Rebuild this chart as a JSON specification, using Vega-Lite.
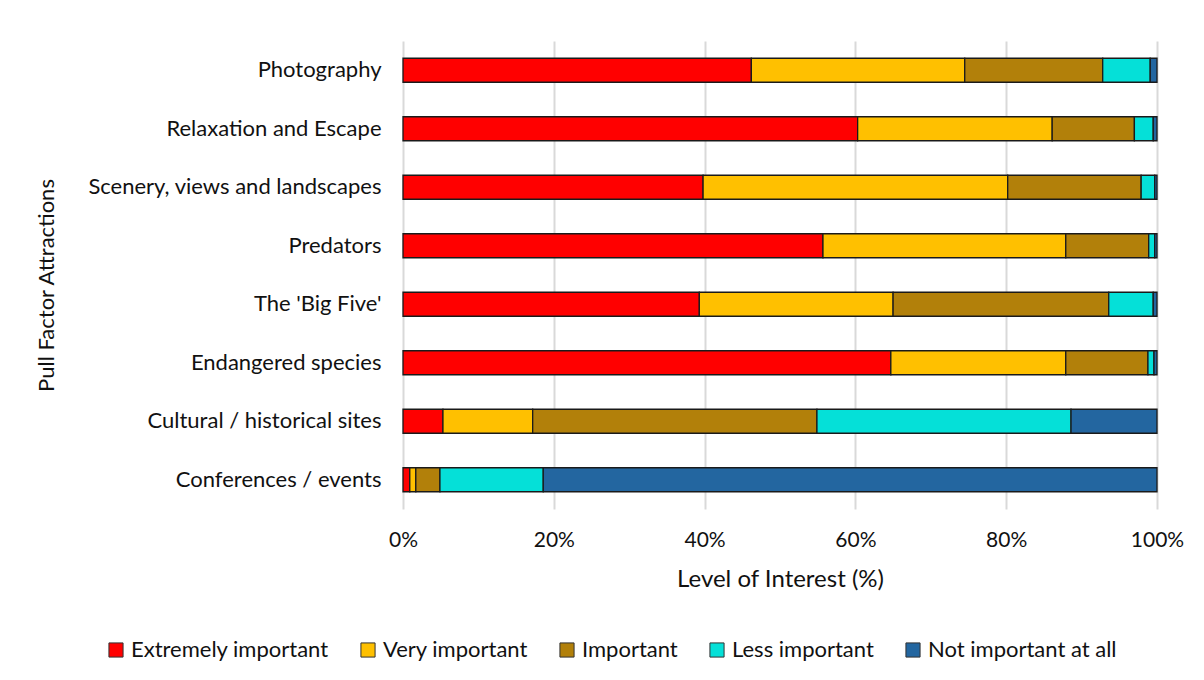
{
  "$schema": "https://vega.github.io/schema/vega-lite/v6.json",
  "width": 754,
  "height": 468,
  "autosize": {"type": "none"},
  "padding": {"left": 403, "top": 41, "right": 47, "bottom": 171},
  "background": "white",
  "data": {
    "values": [
      {"attraction": "Photography", "level": "Extremely important", "k": 1, "pct": 46.2},
      {"attraction": "Photography", "level": "Very important", "k": 2, "pct": 28.3},
      {"attraction": "Photography", "level": "Important", "k": 3, "pct": 18.3},
      {"attraction": "Photography", "level": "Less important", "k": 4, "pct": 6.3},
      {"attraction": "Photography", "level": "Not important at all", "k": 5, "pct": 0.9},
      {"attraction": "Relaxation and Escape", "level": "Extremely important", "k": 1, "pct": 60.3},
      {"attraction": "Relaxation and Escape", "level": "Very important", "k": 2, "pct": 25.8},
      {"attraction": "Relaxation and Escape", "level": "Important", "k": 3, "pct": 10.9},
      {"attraction": "Relaxation and Escape", "level": "Less important", "k": 4, "pct": 2.5},
      {"attraction": "Relaxation and Escape", "level": "Not important at all", "k": 5, "pct": 0.5},
      {"attraction": "Scenery, views and landscapes", "level": "Extremely important", "k": 1, "pct": 39.8},
      {"attraction": "Scenery, views and landscapes", "level": "Very important", "k": 2, "pct": 40.4},
      {"attraction": "Scenery, views and landscapes", "level": "Important", "k": 3, "pct": 17.7},
      {"attraction": "Scenery, views and landscapes", "level": "Less important", "k": 4, "pct": 1.8},
      {"attraction": "Scenery, views and landscapes", "level": "Not important at all", "k": 5, "pct": 0.3},
      {"attraction": "Predators", "level": "Extremely important", "k": 1, "pct": 55.7},
      {"attraction": "Predators", "level": "Very important", "k": 2, "pct": 32.2},
      {"attraction": "Predators", "level": "Important", "k": 3, "pct": 11.0},
      {"attraction": "Predators", "level": "Less important", "k": 4, "pct": 0.8},
      {"attraction": "Predators", "level": "Not important at all", "k": 5, "pct": 0.3},
      {"attraction": "The 'Big Five'", "level": "Extremely important", "k": 1, "pct": 39.3},
      {"attraction": "The 'Big Five'", "level": "Very important", "k": 2, "pct": 25.7},
      {"attraction": "The 'Big Five'", "level": "Important", "k": 3, "pct": 28.6},
      {"attraction": "The 'Big Five'", "level": "Less important", "k": 4, "pct": 5.9},
      {"attraction": "The 'Big Five'", "level": "Not important at all", "k": 5, "pct": 0.5},
      {"attraction": "Endangered species", "level": "Extremely important", "k": 1, "pct": 64.7},
      {"attraction": "Endangered species", "level": "Very important", "k": 2, "pct": 23.2},
      {"attraction": "Endangered species", "level": "Important", "k": 3, "pct": 10.9},
      {"attraction": "Endangered species", "level": "Less important", "k": 4, "pct": 0.8},
      {"attraction": "Endangered species", "level": "Not important at all", "k": 5, "pct": 0.4},
      {"attraction": "Cultural / historical sites", "level": "Extremely important", "k": 1, "pct": 5.3},
      {"attraction": "Cultural / historical sites", "level": "Very important", "k": 2, "pct": 11.9},
      {"attraction": "Cultural / historical sites", "level": "Important", "k": 3, "pct": 37.7},
      {"attraction": "Cultural / historical sites", "level": "Less important", "k": 4, "pct": 33.7},
      {"attraction": "Cultural / historical sites", "level": "Not important at all", "k": 5, "pct": 11.4},
      {"attraction": "Conferences / events", "level": "Extremely important", "k": 1, "pct": 0.9},
      {"attraction": "Conferences / events", "level": "Very important", "k": 2, "pct": 0.8},
      {"attraction": "Conferences / events", "level": "Important", "k": 3, "pct": 3.2},
      {"attraction": "Conferences / events", "level": "Less important", "k": 4, "pct": 13.7},
      {"attraction": "Conferences / events", "level": "Not important at all", "k": 5, "pct": 81.4}
    ]
  },
  "mark": {"type": "bar", "stroke": "#1a1a1a", "strokeWidth": 1.3},
  "encoding": {
    "y": {
      "field": "attraction",
      "type": "nominal",
      "sort": ["Photography", "Relaxation and Escape", "Scenery, views and landscapes", "Predators", "The 'Big Five'", "Endangered species", "Cultural / historical sites", "Conferences / events"],
      "scale": {"paddingInner": 0.59, "paddingOuter": 0.295},
      "axis": {
        "title": "Pull Factor Attractions",
        "titleFontSize": 22,
        "titleFontWeight": "normal",
        "titleFont": "Lato",
        "titleColor": "#111",
        "titleX": -345,
        "titleY": 244,
        "labelFont": "Lato",
        "labelFontSize": 22,
        "labelColor": "#111",
        "labelPadding": 22,
        "labelLimit": 400,
        "ticks": false,
        "domain": false,
        "grid": false
      }
    },
    "x": {
      "field": "pct",
      "type": "quantitative",
      "stack": "normalize",
      "scale": {"domain": [0, 1]},
      "axis": {
        "title": "Level of Interest (%)",
        "titleFontSize": 24,
        "titleFontWeight": "normal",
        "titleFont": "Lato",
        "titleColor": "#111",
        "titlePadding": 17,
        "labelFont": "Lato",
        "labelFontSize": 21,
        "labelColor": "#111",
        "labelPadding": 20,
        "format": ".0%",
        "values": [0, 0.2, 0.4, 0.6, 0.8, 1],
        "ticks": false,
        "domain": false,
        "grid": true,
        "gridColor": "#d9d9d9",
        "gridWidth": 2,
        "labelFlush": false
      }
    },
    "color": {
      "field": "level",
      "type": "nominal",
      "scale": {
        "domain": ["Extremely important", "Very important", "Important", "Less important", "Not important at all"],
        "range": ["#ff0000", "#ffc000", "#b2800a", "#05e0d8", "#2366a0"]
      },
      "legend": {
        "title": null,
        "orient": "none",
        "direction": "horizontal",
        "legendX": -298,
        "legendY": 598,
        "symbolType": "square",
        "symbolSize": 200,
        "symbolStrokeColor": "#333",
        "symbolStrokeWidth": 1,
        "labelFont": "Lato",
        "labelFontSize": 22,
        "labelColor": "#111",
        "labelOffset": 4,
        "labelLimit": 400,
        "columnPadding": 28
      }
    },
    "order": {"field": "k", "type": "quantitative"}
  },
  "config": {"view": {"stroke": null}}
}
